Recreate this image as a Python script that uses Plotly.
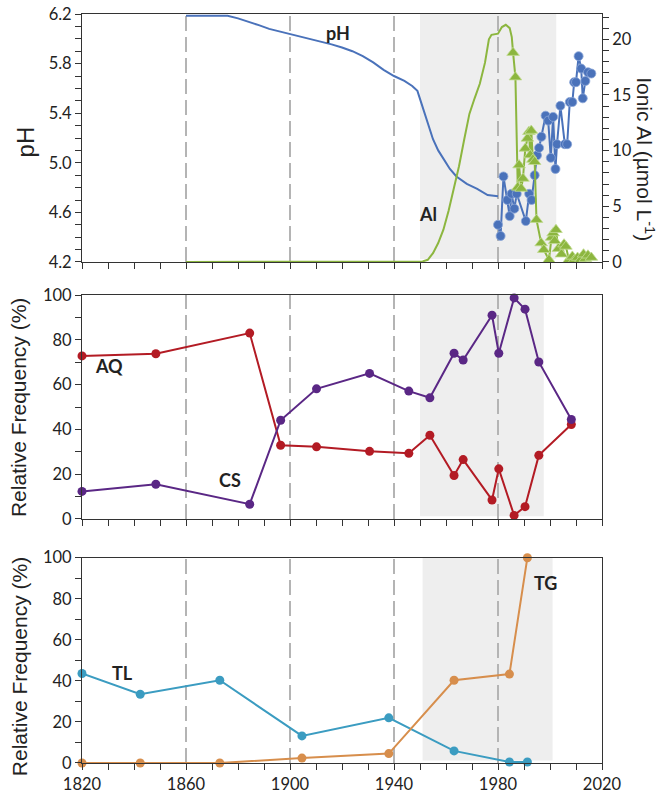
import plotly.graph_objects as go

# ---------------- data ----------------
# modelled pH (top panel, line)
ph_model_years = [1860, 1864, 1868, 1872, 1876, 1880, 1884, 1888, 1892, 1896, 1900, 1904, 1908,
                  1912, 1916, 1920, 1924, 1928, 1932, 1936, 1940, 1944, 1947, 1949, 1951, 1953,
                  1955, 1957, 1959, 1961.5, 1964, 1968, 1972, 1976, 1980]
ph_model = [6.185, 6.185, 6.185, 6.185, 6.185, 6.165, 6.14, 6.11, 6.08, 6.06, 6.04, 6.02, 6.00,
            5.98, 5.955, 5.93, 5.90, 5.86, 5.81, 5.75, 5.70, 5.66, 5.62, 5.58, 5.45, 5.31,
            5.19, 5.10, 5.03, 4.95, 4.89, 4.83, 4.79, 4.74, 4.73]

# measured pH (top panel, circles)
ph_meas_years = [1980.0, 1981.0, 1982.1, 1983.6, 1984.5, 1985.2, 1986.3, 1987.2, 1990.7, 1992.0,
                 1992.9, 1994.1, 1995.0, 1995.8, 1996.7, 1998.3, 1999.3, 2000.3, 2001.2, 2002.1,
                 2002.7, 2004.0, 2005.7, 2006.6, 2007.6, 2008.6, 2009.3, 2010.0, 2011.0, 2012.0,
                 2012.6, 2013.6, 2014.6, 2015.9]
ph_meas = [4.50, 4.41, 4.89, 4.70, 4.57, 4.75, 4.63, 4.75, 4.53, 4.75,
           4.70, 4.90, 5.06, 5.12, 5.21, 5.38, 5.34, 5.04, 5.37, 4.95,
           5.15, 5.46, 5.15, 5.15, 5.49, 5.49, 5.65, 5.65, 5.86, 5.76,
           5.52, 5.66, 5.73, 5.72]

# modelled ionic Al (top panel, line, right axis)
al_model_years = [1860, 1949, 1951, 1953, 1955, 1957, 1959, 1961, 1963, 1965, 1967, 1969, 1971,
                  1973, 1975, 1976.5, 1977.5, 1980, 1981.5, 1983, 1984.5, 1985.3, 1985.8]
al_model = [0, 0, 0.05, 0.2, 0.8, 1.7, 2.9, 4.6, 6.6, 8.6, 11.0, 13.3, 14.7,
            16.0, 17.9, 20.0, 20.4, 20.5, 21.1, 21.3, 21.0, 20.2, 18.8]

# measured ionic Al (top panel, triangles)
al_meas_years = [1985.8, 1986.7, 1987.6, 1988.1, 1988.9, 1989.6, 1990.5, 1991.3, 1991.9, 1992.4,
                 1992.8, 1993.4, 1994.1, 1994.8, 1996.6, 1997.6, 1999.6, 2000.6, 2001.2, 2001.8,
                 2002.3, 2003.2, 2004.4, 2005.4, 2006.1, 2007.3, 2008.6, 2009.4, 2010.6, 2011.8,
                 2012.9, 2013.6, 2014.6, 2015.9]
al_meas = [18.8, 16.6, 6.7, 8.7, 6.6, 7.5, 10.2, 11.1, 11.7, 9.6,
           11.8, 9.2, 9.0, 3.8, 1.7, 1.1, 0.2, 2.2, 2.6, 1.9,
           2.9, 1.2, 0.7, 1.6, 1.4, 0.2, 0.5, 0.2, 0.4, 0.2,
           0.7, 0.3, 0.6, 0.4]

# middle panel: AQ and CS relative frequency (%)
mid_years = [1820, 1848.4, 1884.5, 1896.4, 1910.2, 1930.6, 1945.7, 1953.8, 1963.1, 1966.6,
             1977.7, 1980.3, 1986.2, 1990.4, 1995.7, 2008.2]
aq_vals = [72.8, 73.8, 83.0, 32.9, 32.2, 30.2, 29.3, 37.4, 19.4, 26.5,
           8.5, 22.4, 1.6, 5.5, 28.4, 42.2]
cs_vals = [12.3, 15.5, 6.6, 44.1, 58.1, 65.0, 57.1, 54.1, 74.0, 71.0,
           91.0, 74.0, 98.7, 93.7, 70.1, 44.4]

# bottom panel: TL and TG relative frequency (%)
bot_years = [1820, 1842.4, 1873.0, 1904.6, 1938.0, 1963.1, 1984.4, 1991.3]
tl_vals = [43.6, 33.5, 40.3, 13.2, 22.0, 5.9, 0.5, 0.5]
tg_vals = [0.0, 0.0, 0.0, 2.4, 4.6, 40.3, 43.3, 100.0]

dash_years = [1860, 1900, 1940, 1980]
shade_top = (1950, 2002.4)
shade_mid = (1950, 1997.6)
shade_bot = (1951, 2001)

# ---------------- styling ----------------
C_PH = "#4a72ba"
C_AL = "#8cb63f"
C_AQ = "#b31b24"
C_CS = "#5a2785"
C_TL = "#3b9cc1"
C_TG = "#d78e4c"
C_DASH = "#b4b4b4"
C_SHADE = "#eeeeee"
AX = "#333333"
TICKFONT = dict(family="Lato, Roboto, sans-serif", size=16.5, color="#222")
LBLFONT = dict(family="Lato, Roboto, sans-serif", size=18, color="#222")

fig = go.Figure()

# top panel
fig.add_trace(go.Scatter(x=ph_model_years, y=ph_model, mode="lines",
                         line=dict(color=C_PH, width=2), xaxis="x3", yaxis="y3",
                         showlegend=False, cliponaxis=False))
fig.add_trace(go.Scatter(x=ph_meas_years, y=ph_meas, mode="lines+markers",
                         line=dict(color=C_PH, width=2),
                         marker=dict(symbol="circle", size=9, color=C_PH,
                                     line=dict(color="#8aa6d8", width=0.8)),
                         xaxis="x3", yaxis="y3", showlegend=False, cliponaxis=False))
fig.add_trace(go.Scatter(x=al_model_years, y=al_model, mode="lines",
                         line=dict(color=C_AL, width=2), xaxis="x3", yaxis="y4",
                         showlegend=False, cliponaxis=False))
fig.add_trace(go.Scatter(x=al_meas_years, y=al_meas, mode="lines+markers",
                         line=dict(color=C_AL, width=2),
                         marker=dict(symbol="triangle-up", size=11, color=C_AL,
                                     line=dict(color="#c2dc92", width=0.8)),
                         xaxis="x3", yaxis="y4", showlegend=False, cliponaxis=False))

# middle panel
fig.add_trace(go.Scatter(x=mid_years, y=aq_vals, mode="lines+markers",
                         line=dict(color=C_AQ, width=2), marker=dict(size=9, color=C_AQ),
                         xaxis="x2", yaxis="y2", showlegend=False, cliponaxis=False))
fig.add_trace(go.Scatter(x=mid_years, y=cs_vals, mode="lines+markers",
                         line=dict(color=C_CS, width=2), marker=dict(size=9, color=C_CS),
                         xaxis="x2", yaxis="y2", showlegend=False, cliponaxis=False))

# bottom panel
fig.add_trace(go.Scatter(x=bot_years, y=tl_vals, mode="lines+markers",
                         line=dict(color=C_TL, width=2), marker=dict(size=9, color=C_TL),
                         xaxis="x", yaxis="y", showlegend=False, cliponaxis=False))
fig.add_trace(go.Scatter(x=bot_years, y=tg_vals, mode="lines+markers",
                         line=dict(color=C_TG, width=2), marker=dict(size=9, color=C_TG),
                         xaxis="x", yaxis="y", showlegend=False, cliponaxis=False))

shapes = []
for xr, yr, (s0, s1) in [("x3", "y3", shade_top), ("x2", "y2", shade_mid), ("x", "y", shade_bot)]:
    shapes.append(dict(type="rect", xref=xr, yref=yr + " domain", x0=s0, x1=s1,
                       y0=0.012, y1=1.0, fillcolor=C_SHADE,
                       line=dict(width=0), layer="below"))
    for d in dash_years:
        shapes.append(dict(type="line", xref=xr, yref=yr + " domain", x0=d, x1=d, y0=0, y1=1,
                           line=dict(color=C_DASH, width=2, dash="15px,6px"), layer="below"))


def xax(domain_anchor, show_labels):
    return dict(range=[1820, 2020], tick0=1820, dtick=40, ticks="outside", ticklen=6,
                tickcolor=AX, showline=True, linecolor=AX, linewidth=1, mirror=True,
                showgrid=False, zeroline=False, anchor=domain_anchor, automargin=False,
                showticklabels=show_labels, tickfont=TICKFONT, ticklabeloverflow="allow",
                minor=dict(dtick=10, ticks="outside", ticklen=6, tickcolor=AX, showgrid=False))


def yax(domain, rng, dtick, minor_dtick, fmt=None, mirror=True):
    d = dict(domain=domain, range=rng, dtick=dtick, tick0=rng[0], ticks="outside", ticklen=6,
             tickcolor=AX, showline=True, linecolor=AX, linewidth=1, mirror=mirror,
             showgrid=False, zeroline=False, tickfont=TICKFONT, automargin=False,
             ticklabeloverflow="allow",
             minor=dict(dtick=minor_dtick, ticks="outside", ticklen=6, tickcolor=AX,
                        showgrid=False))
    if fmt:
        d["tickformat"] = fmt
    return d


top_dom = [0.6689, 1.0]
mid_dom = [0.3258, 0.6248]
bot_dom = [0.0, 0.2741]

AXTITLE = dict(family="Liberation Sans, Arial, sans-serif", size=21, color="#222")
C = dict(showarrow=False, xanchor="center", yanchor="middle")

annotations = [
    dict(text="pH", xref="paper", yref="paper", x=-0.109, y=0.829, textangle=-90,
         font=dict(family="Liberation Sans, Arial, sans-serif", size=24, color="#222"), **C),
    dict(text="Relative Frequency (%)", xref="paper", yref="paper", x=-0.121, y=0.474,
         textangle=-90, font=AXTITLE, **C),
    dict(text="Relative Frequency (%)", xref="paper", yref="paper", x=-0.121, y=0.128,
         textangle=-90, font=AXTITLE, **C),
    dict(text="Ionic Al (\u00b5mol L<sup>-1</sup>)", xref="paper", yref="paper", x=1.083,
         y=0.806, textangle=90, font=AXTITLE, **C),
    dict(text="<b>pH</b>", xref="x3", yref="y3", x=1918.5, y=6.045, font=LBLFONT, **C),
    dict(text="<b>Al</b>", xref="x3", yref="y3", x=1953, y=4.59, font=LBLFONT, **C),
    dict(text="<b>AQ</b>", xref="x2", yref="y2", x=1830.4, y=68.3, font=LBLFONT, **C),
    dict(text="<b>CS</b>", xref="x2", yref="y2", x=1877, y=17.5, font=LBLFONT, **C),
    dict(text="<b>TL</b>", xref="x", yref="y", x=1835.6, y=43.7, font=LBLFONT, **C),
    dict(text="<b>TG</b>", xref="x", yref="y", x=1998.4, y=87.7, font=LBLFONT, **C),
]

y4 = dict(range=[0, 22.27], tick0=0, dtick=5, ticks="outside", ticklen=6, tickcolor=AX,
          showline=True, linecolor=AX, linewidth=1, side="right", overlaying="y3",
          anchor="x3", showgrid=False, zeroline=False, tickfont=TICKFONT, automargin=False,
          ticklabeloverflow="allow",
          minor=dict(dtick=1, ticks="outside", ticklen=6, tickcolor=AX, showgrid=False))

fig.update_layout(
    width=666, height=798,
    margin=dict(l=82, r=64, t=14, b=35, autoexpand=False),
    paper_bgcolor="white", plot_bgcolor="white",
    xaxis=xax("y", True),
    xaxis2=xax("y2", False),
    xaxis3=xax("y3", False),
    yaxis=yax(bot_dom, [0, 100], 20, 10),
    yaxis2=yax(mid_dom, [0, 100], 20, 10),
    yaxis3=yax(top_dom, [4.2, 6.2], 0.4, 0.1, ".1f", mirror=False),
    yaxis4=y4,
    shapes=shapes,
    annotations=annotations,
)

# remove the page's default body margin so the figure fills the window exactly
fig.write_html("out.html", config={"displayModeBar": False},
               post_script="document.body.style.margin='0';document.body.style.overflow='hidden';")
